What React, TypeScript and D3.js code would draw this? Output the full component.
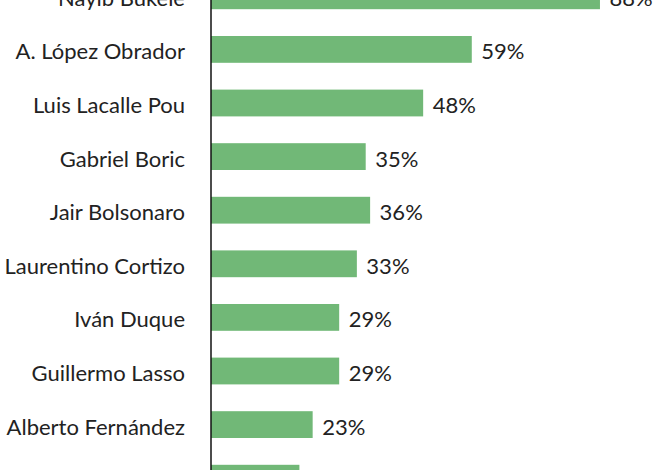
import React from "react";
import * as d3 from "d3";

const names = [
  "Nayib Bukele",
  "A. López Obrador",
  "Luis Lacalle Pou",
  "Gabriel Boric",
  "Jair Bolsonaro",
  "Laurentino Cortizo",
  "Iván Duque",
  "Guillermo Lasso",
  "Alberto Fernández",
  "Pedro Castillo",
];
const values = [88, 59, 48, 35, 36, 33, 29, 29, 23, 20];

const W = 670;
const H = 470;

export default function App() {
  const x = d3.scaleLinear().domain([0, 100]).range([211, 653]);
  const y = d3
    .scaleBand<string>()
    .domain(names)
    .range([-31, 505])
    .paddingInner(0.5)
    .paddingOuter(0.25);
  const font = "Lato, 'Open Sans', sans-serif";
  return (
    <svg
      width={W}
      height={H}
      style={{ position: "fixed", left: 0, top: 0, background: "#fff" }}
    >
      {names.map((n, i) => {
        const yy = y(n) as number;
        const bw = y.bandwidth();
        return (
          <g key={n}>
            <rect
              x={x(0)}
              y={yy}
              width={x(values[i]) - x(0)}
              height={bw}
              fill="#71b877"
            />
            <text
              x={185}
              y={yy + bw / 2}
              dy="0.45em"
              textAnchor="end"
              fontFamily={font}
              fontSize={22}
              fill="#222"
            >
              {n}
            </text>
            <text
              x={x(values[i]) + 9.5}
              y={yy + bw / 2}
              dy="0.45em"
              textAnchor="start"
              fontFamily={font}
              fontSize={22}
              fill="#222"
            >
              {values[i]}%
            </text>
          </g>
        );
      })}
      <line x1={x(0)} x2={x(0)} y1={0} y2={H} stroke="#111" strokeWidth={1.5} />
    </svg>
  );
}
